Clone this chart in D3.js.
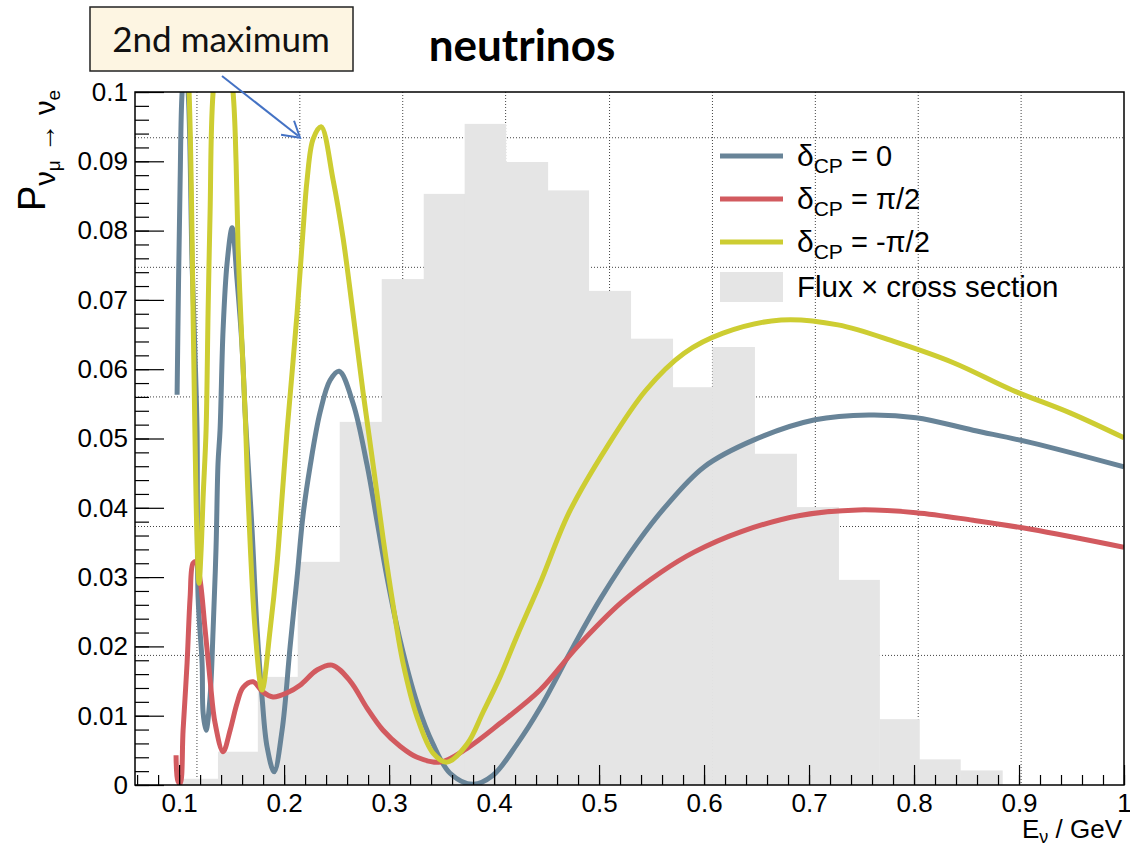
<!DOCTYPE html>
<html>
<head>
<meta charset="utf-8">
<script src="https://cdn.jsdelivr.net/npm/d3@7"></script>
<style>
  body { margin: 0; background: #fff; }
  svg text { font-family: 'Liberation Sans', Arial, sans-serif; }
</style>
</head>
<body>
<div id="chart"></div>
<script>
// flux x cross section histogram (bin edges in GeV, heights in plot units)
const binEdges = [0.098, 0.137, 0.175, 0.213, 0.253, 0.293, 0.333, 0.372, 0.411, 0.451,
  0.490, 0.530, 0.570, 0.608, 0.648, 0.688, 0.728, 0.767, 0.805, 0.844, 0.884];
const fluxValues = [0.0009, 0.0048, 0.0156, 0.0322, 0.0524, 0.0730, 0.0853, 0.0954, 0.0899, 0.0858,
  0.0713, 0.0644, 0.0574, 0.0632, 0.0478, 0.0401, 0.0296, 0.0095, 0.0037, 0.0021];

// delta_CP = 0
const cp0E = [0.0981, 0.0995, 0.1010, 0.1029, 0.1057, 0.1086, 0.1124, 0.1152, 0.1171, 0.1181, 0.1219, 0.1229,
  0.1257, 0.1295, 0.1324, 0.1352, 0.1371, 0.1390, 0.1419, 0.1457, 0.1505, 0.1552, 0.1600, 0.1629, 0.1648,
  0.1695, 0.1743, 0.1790, 0.1838, 0.1905, 0.1981, 0.2057, 0.2124, 0.2181, 0.2248, 0.2343, 0.2438, 0.2524,
  0.2657, 0.2790, 0.2886, 0.2981, 0.3105, 0.3267, 0.3419, 0.3581, 0.3800, 0.3990, 0.4219, 0.4438, 0.4752,
  0.5019, 0.5362, 0.5629, 0.6000, 0.6476, 0.7057, 0.7571, 0.8019, 0.8562, 0.9114, 1.0];
const cp0P = [0.0563, 0.0729, 0.0873, 0.1000, 0.1040, 0.1000, 0.0750, 0.0620, 0.0512, 0.0271, 0.0176, 0.0104,
  0.0079, 0.0127, 0.0224, 0.0343, 0.0465, 0.0512, 0.0657, 0.0753, 0.0804, 0.0729, 0.0632, 0.0537, 0.0488,
  0.0368, 0.0224, 0.0127, 0.0055, 0.0019, 0.0079, 0.0199, 0.0300, 0.0390, 0.0460, 0.0538, 0.0584, 0.0597,
  0.0551, 0.0462, 0.0380, 0.0299, 0.0209, 0.0118, 0.0059, 0.0017, 0.0001, 0.0014, 0.0059, 0.0111, 0.0199,
  0.0270, 0.0349, 0.0401, 0.0459, 0.0498, 0.0527, 0.0534, 0.0530, 0.0512, 0.0494, 0.0459];

// delta_CP = pi/2
const cpPlusE = [0.0971, 0.0990, 0.1010, 0.1038, 0.1076, 0.1105, 0.1133, 0.1162, 0.1200, 0.1248, 0.1295,
  0.1343, 0.1419, 0.1486, 0.1552, 0.1610, 0.1705, 0.1800, 0.1895, 0.2029, 0.2152, 0.2314, 0.2457, 0.2629,
  0.2790, 0.2943, 0.3105, 0.3267, 0.3486, 0.3743, 0.4057, 0.4438, 0.4790, 0.5210, 0.5590, 0.5905, 0.6362,
  0.6914, 0.7467, 0.8019, 0.8562, 0.9114, 1.0];
const cpPlusP = [0.0043, 0.0005, 0.0002, 0.0079, 0.0176, 0.0271, 0.0320, 0.0322, 0.0296, 0.0224, 0.0152,
  0.0089, 0.0048, 0.0079, 0.0118, 0.0141, 0.0149, 0.0134, 0.0127, 0.0133, 0.0144, 0.0166, 0.0173, 0.0150,
  0.0111, 0.0079, 0.0056, 0.0040, 0.0033, 0.0053, 0.0089, 0.0137, 0.0199, 0.0263, 0.0307, 0.0336, 0.0366,
  0.0389, 0.0397, 0.0393, 0.0382, 0.0369, 0.0343];

// delta_CP = -pi/2
const cpMinusE = [0.1040, 0.1095, 0.1124, 0.1133, 0.1143, 0.1152, 0.1170, 0.1190, 0.1210, 0.1229, 0.1257,
  0.1276, 0.1295, 0.1324, 0.1419, 0.1514, 0.1543, 0.1562, 0.1600, 0.1629, 0.1657, 0.1724, 0.1790, 0.1867,
  0.1933, 0.1981, 0.2029, 0.2124, 0.2181, 0.2219, 0.2276, 0.2352, 0.2467, 0.2562, 0.2657, 0.2752, 0.2848,
  0.2943, 0.3038, 0.3133, 0.3267, 0.3419, 0.3552, 0.3743, 0.3895, 0.4057, 0.4219, 0.4438, 0.4714, 0.5076,
  0.5448, 0.5810, 0.6181, 0.6733, 0.7276, 0.7829, 0.8381, 0.8933, 0.9486, 1.0];
const cpMinusP = [0.1150, 0.1000, 0.0786, 0.0681, 0.0584, 0.0498, 0.0360, 0.0291, 0.0340, 0.0416, 0.0512,
  0.0681, 0.0825, 0.1000, 0.1120, 0.1000, 0.0898, 0.0776, 0.0632, 0.0537, 0.0416, 0.0224, 0.0137, 0.0224,
  0.0320, 0.0416, 0.0512, 0.0681, 0.0801, 0.0873, 0.0932, 0.0950, 0.0873, 0.0789, 0.0680, 0.0567, 0.0462,
  0.0356, 0.0260, 0.0176, 0.0098, 0.0046, 0.0033, 0.0059, 0.0105, 0.0156, 0.0215, 0.0291, 0.0393, 0.0488,
  0.0570, 0.0623, 0.0652, 0.0671, 0.0664, 0.0639, 0.0609, 0.0570, 0.0537, 0.0501];

const xTicks = [0.1, 0.2, 0.3, 0.4, 0.5, 0.6, 0.7, 0.8, 0.9, 1];
const yTicks = [0, 0.01, 0.02, 0.03, 0.04, 0.05, 0.06, 0.07, 0.08, 0.09, 0.1];
// grid of the underlying flux plot (it was pasted with its own scale)
const gridX = [0.117, 0.215, 0.313, 0.411, 0.510, 0.608, 0.706, 0.804, 0.902];
const gridY = [0.0187, 0.0373, 0.0560, 0.0747, 0.0934];

const series = [
  { label: '0', E: cp0E, P: cp0P, color: '#688498' },
  { label: 'π/2', E: cpPlusE, P: cpPlusP, color: '#d25a5f' },
  { label: '-π/2', E: cpMinusE, P: cpMinusP, color: '#cdcd32' },
];

const W = 1130, H = 847;
const margin = { top: 92, right: 6, bottom: 62, left: 135 };
const width = W - margin.left - margin.right;
const height = H - margin.top - margin.bottom;

const svg = d3.select('#chart').append('svg')
  .attr('width', W)
  .attr('height', H);

svg.append('rect').attr('width', W).attr('height', H).attr('fill', '#fff');

const g = svg.append('g').attr('transform', `translate(${margin.left},${margin.top})`);

const xScale = d3.scaleLinear().domain([0.058, 1.0]).range([0, width]);
const yScale = d3.scaleLinear().domain([0, 0.1]).range([height, 0]);

g.append('clipPath').attr('id', 'frame')
  .append('rect').attr('width', width).attr('height', height);

const plot = g.append('g').attr('clip-path', 'url(#frame)');

// dotted grid
plot.selectAll('line.gx').data(gridX).enter().append('line')
  .attr('x1', (d) => xScale(d)).attr('x2', (d) => xScale(d))
  .attr('y1', 0).attr('y2', height)
  .attr('stroke', '#444').attr('stroke-width', 1).attr('stroke-dasharray', '1,2');
plot.selectAll('line.gy').data(gridY).enter().append('line')
  .attr('x1', 0).attr('x2', width)
  .attr('y1', (d) => yScale(d)).attr('y2', (d) => yScale(d))
  .attr('stroke', '#444').attr('stroke-width', 1).attr('stroke-dasharray', '1,2');

// histogram
plot.selectAll('rect.bin').data(fluxValues).enter().append('rect')
  .attr('x', (d, i) => xScale(binEdges[i]))
  .attr('width', (d, i) => xScale(binEdges[i + 1]) - xScale(binEdges[i]) + 0.5)
  .attr('y', (d) => yScale(d))
  .attr('height', (d) => height - yScale(d))
  .attr('fill', '#e5e5e5');

const line = d3.line()
  .x((d) => xScale(d[0]))
  .y((d) => yScale(d[1]))
  .curve(d3.curveCatmullRom.alpha(0.5));

series.forEach((s) => {
  plot.append('path')
    .datum(s.E.map((e, i) => [e, s.P[i]]))
    .attr('fill', 'none')
    .attr('stroke', s.color)
    .attr('stroke-width', 5)
    .attr('stroke-linejoin', 'round')
    .attr('d', line);
});

// axes
g.append('g')
  .call(d3.axisLeft(yScale).tickValues(yTicks).tickSize(-29).tickPadding(7).tickFormat((d) => String(d)));
g.append('g')
  .call(d3.axisLeft(yScale).tickValues(d3.range(0, 0.1001, 0.002)).tickSize(-14).tickFormat(''));
g.append('g').attr('transform', `translate(0,${height})`)
  .call(d3.axisBottom(xScale).tickValues(xTicks).tickSize(-20).tickPadding(9).tickFormat((d) => String(d)));
g.append('g').attr('transform', `translate(0,${height})`)
  .call(d3.axisBottom(xScale).tickValues(d3.range(0.06, 1.0001, 0.02)).tickSize(-10).tickFormat(''));

g.selectAll('.domain').remove();
g.selectAll('.tick line').attr('stroke', '#000').attr('stroke-width', 1.2);
g.selectAll('.tick text').attr('font-size', 26).attr('fill', '#000')
  .style('font-family', "'Liberation Sans', Arial, sans-serif");

g.append('rect').attr('width', width).attr('height', height)
  .attr('fill', 'none').attr('stroke', '#000').attr('stroke-width', 1.5);

// axis titles
const yTitle = svg.append('text')
  .attr('transform', 'translate(45,211) rotate(-90)')
  .attr('fill', '#000');
yTitle.append('tspan').attr('font-size', 38).text('P');
yTitle.append('tspan').attr('font-size', 29).attr('dy', 10).text('ν');
yTitle.append('tspan').attr('font-size', 19).attr('dy', 5).text('μ');
yTitle.append('tspan').attr('font-size', 29).attr('dy', -5).text(' → ν');
yTitle.append('tspan').attr('font-size', 19).attr('dy', 5).text('e');

const xTitle = svg.append('text')
  .attr('x', margin.left + width - 2).attr('y', 838)
  .attr('text-anchor', 'end').attr('fill', '#000');
xTitle.append('tspan').attr('font-size', 26).text('E');
xTitle.append('tspan').attr('font-size', 18).attr('dy', 5).text('ν');
xTitle.append('tspan').attr('font-size', 26).attr('dy', -5).text(' / GeV');

// legend
const legend = svg.append('g').attr('transform', 'translate(720,156)');
series.forEach((s, i) => {
  const row = legend.append('g').attr('transform', `translate(0,${i * 43})`);
  row.append('line').attr('x1', 0).attr('x2', 63).attr('y1', 0).attr('y2', 0)
    .attr('stroke', s.color).attr('stroke-width', 5);
  const t = row.append('text').attr('x', 77).attr('y', 10).attr('fill', '#000');
  t.append('tspan').attr('font-size', 30).text('δ');
  t.append('tspan').attr('font-size', 21).attr('dy', 7).text('CP');
  t.append('tspan').attr('font-size', 29).attr('dy', -7).text(' = ' + s.label);
});
legend.append('rect').attr('x', 0).attr('y', 116).attr('width', 63).attr('height', 30)
  .attr('fill', '#e5e5e5');
legend.append('text').attr('x', 77).attr('y', 141).attr('font-size', 29.5).attr('fill', '#000')
  .text('Flux × cross section');

// title
svg.append('text')
  .attr('x', 522).attr('y', 61)
  .attr('text-anchor', 'middle')
  .attr('font-size', 44).attr('font-weight', 'bold')
  .style('font-family', 'Lato, sans-serif')
  .text('neutrinos');

// annotation
svg.append('rect').attr('x', 90).attr('y', 7).attr('width', 263).attr('height', 64)
  .attr('fill', '#fdf5e2').attr('stroke', '#222').attr('stroke-width', 1.5);
svg.append('text')
  .attr('x', 221).attr('y', 52)
  .attr('text-anchor', 'middle')
  .attr('font-size', 35)
  .style('font-family', 'Lato, sans-serif')
  .attr('fill', '#111')
  .text('2nd maximum');

const arrowTip = [xScale(0.2152) + margin.left, yScale(0.0934) + margin.top];
svg.append('line')
  .attr('x1', 222).attr('y1', 76).attr('x2', arrowTip[0] - 2).attr('y2', arrowTip[1] - 2)
  .attr('stroke', '#4472c4').attr('stroke-width', 2);
svg.append('path')
  .attr('d', `M${arrowTip[0] - 19},${arrowTip[1] - 3} L${arrowTip[0]},${arrowTip[1]} L${arrowTip[0] - 6},${arrowTip[1] - 17}`)
  .attr('fill', 'none').attr('stroke', '#4472c4').attr('stroke-width', 2);
</script>
</body>
</html>
